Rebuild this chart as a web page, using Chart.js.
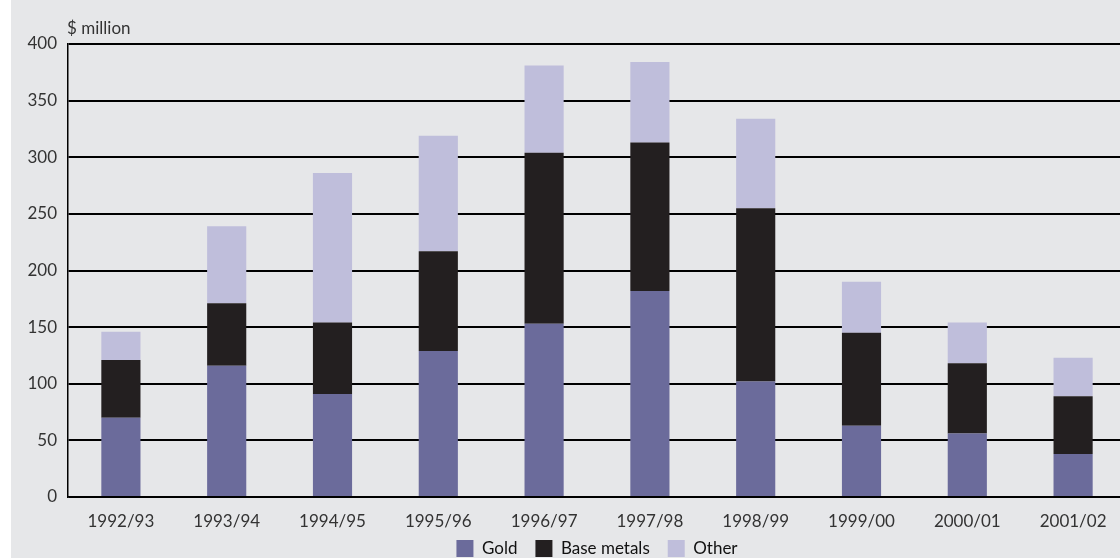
<!DOCTYPE html>
<html>
<head>
<meta charset="utf-8">
<script src="https://cdn.jsdelivr.net/npm/chart.js@4"></script>
<style>
  html, body { margin: 0; padding: 0; background: #fff; overflow: hidden; }
  #wrap { position: absolute; left: 11px; top: 0; width: 1120px; height: 558px; background: #e6e7e9; }
</style>
</head>
<body>
<div id="wrap"><canvas id="myChart"></canvas></div>
<script>
const years = ['1992/93', '1993/94', '1994/95', '1995/96', '1996/97', '1997/98', '1998/99', '1999/00', '2000/01', '2001/02'];
const gold = [70, 116, 91, 129, 153, 182, 102, 63, 56, 38];
const baseMetals = [51, 55, 63, 88, 151, 131, 153, 82, 62, 51];
const other = [25, 68, 132, 102, 77, 71, 79, 45, 36, 34];
const yTicks = [0, 50, 100, 150, 200, 250, 300, 350, 400];

const FONT = 'Lato, "Open Sans", sans-serif';

// "$ million" over the y axis; legend pulled up tight under the year labels
const unitLabel = {
  id: 'unitLabel',
  afterLayout(chart) {
    if (chart.legend) chart.legend.top = chart.chartArea.bottom + 25;
  },
  afterDraw(chart) {
    const c = chart.ctx;
    const a = chart.chartArea;
    c.save();
    c.font = '17px ' + FONT;
    c.fillStyle = '#333';
    c.textAlign = 'left';
    c.textBaseline = 'alphabetic';
    c.fillText('$ million', a.left - 1, a.top - 10);
    c.restore();
  }
};

const ctx = document.getElementById('myChart');
ctx.parentNode.style.height = '558px';

new Chart(ctx, {
  type: 'bar',
  data: {
    labels: years,
    datasets: [
      { label: 'Gold', data: gold, backgroundColor: '#6b6b9b' },
      { label: 'Base metals', data: baseMetals, backgroundColor: '#231f20' },
      { label: 'Other', data: other, backgroundColor: '#bfbedb' }
    ]
  },
  options: {
    responsive: true,
    maintainAspectRatio: false,
    animation: false,
    layout: { padding: { top: 44, right: 5, left: 0, bottom: 0 } },
    datasets: { bar: { barPercentage: 0.37, categoryPercentage: 1 } },
    scales: {
      x: {
        stacked: true,
        afterFit(scale) { scale.height = 36; },
        grid: { display: false, drawTicks: false },
        border: { color: '#000', width: 1.5 },
        ticks: { color: '#333', font: { family: FONT, size: 17 }, padding: 14 }
      },
      y: {
        stacked: true,
        min: 0,
        max: 400,
        afterBuildTicks(scale) { scale.ticks = yTicks.map(v => ({ value: v })); },
        afterFit(scale) { scale.width = 57; },
        grid: { color: '#000', lineWidth: 2, drawTicks: false },
        border: { color: '#000', width: 1.5 },
        ticks: { color: '#333', font: { family: FONT, size: 17 }, padding: 11 }
      }
    },
    plugins: {
      legend: {
        position: 'bottom',
        fullSize: false,
        maxHeight: 25,
        labels: {
          color: '#111',
          font: { family: FONT, size: 17 },
          boxWidth: 17,
          boxHeight: 17,
          padding: 18
        }
      },
      tooltip: { enabled: false }
    }
  },
  plugins: [unitLabel]
});
</script>
</body>
</html>
